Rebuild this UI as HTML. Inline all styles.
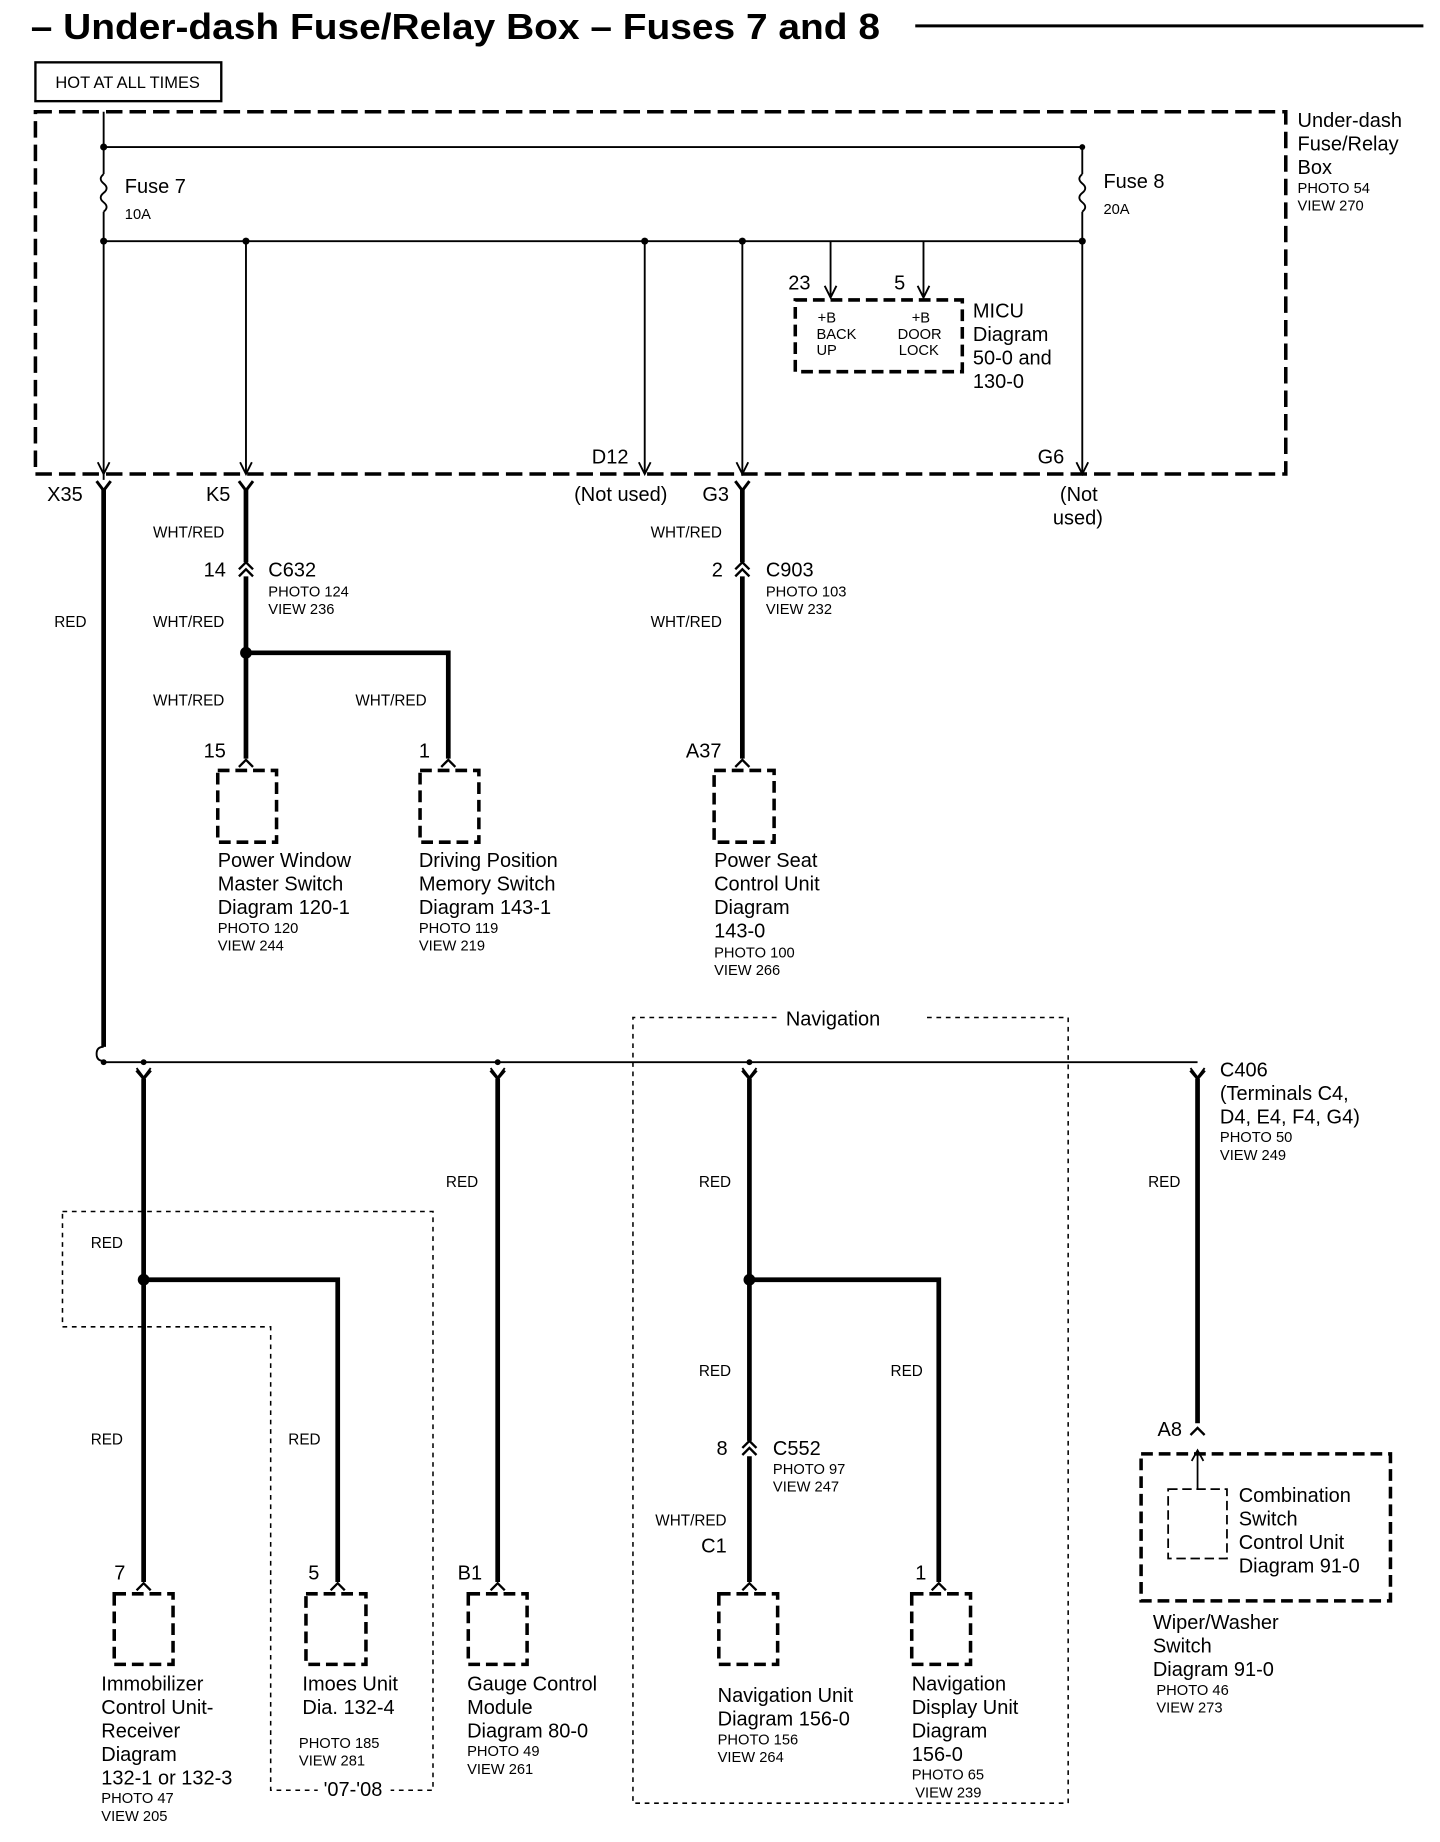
<!DOCTYPE html>
<html><head><meta charset="utf-8"><style>
html,body{margin:0;padding:0;background:#fff;}
svg{display:block}
text{font-family:"Liberation Sans",Arial,sans-serif;fill:#000}
.t{font-size:17px}
.s{font-size:12.5px}
.w{font-size:13px}
</style></head><body>
<svg width="1440" height="1842" viewBox="0 0 1224 1566" xmlns="http://www.w3.org/2000/svg">
<rect width="1224" height="1566" fill="#fff"/>
<!-- title -->
<text x="26" y="33" font-size="31" font-weight="bold" textLength="722" lengthAdjust="spacingAndGlyphs">– Under-dash Fuse/Relay Box – Fuses 7 and 8</text>
<line x1="778" y1="22" x2="1210" y2="22" stroke="#000" stroke-width="2.5"/>
<rect x="30" y="53" width="158" height="33" fill="none" stroke="#000" stroke-width="2"/>
<text x="47" y="75" font-size="14">HOT AT ALL TIMES</text>
<!-- main dashed box -->
<rect x="30" y="95" width="1063" height="308" fill="none" stroke="#000" stroke-width="3" stroke-dasharray="14,6"/>
<text x="1103" y="108" class="t">Under-dash</text>
<text x="1103" y="128" class="t">Fuse/Relay</text>
<text x="1103" y="148" class="t">Box</text>
<text x="1103" y="164" class="s">PHOTO 54</text>
<text x="1103" y="179" class="s">VIEW 270</text>
<g stroke="#000" stroke-width="1.6" fill="none">
<line x1="88" y1="95" x2="88" y2="148"/>
<path d="M88 148 q-5 4 0 8 q5 4 0 8 q-5 4 0 8 q5 4 0 8"/>
<line x1="88" y1="180" x2="88" y2="408"/>
<line x1="88" y1="125" x2="920" y2="125"/>
<line x1="920" y1="125" x2="920" y2="148"/>
<path d="M920 148 q-5 4 0 8 q5 4 0 8 q-5 4 0 8 q5 4 0 8"/>
<line x1="920" y1="180" x2="920" y2="403"/>
<line x1="88" y1="205" x2="920" y2="205"/>
<line x1="209" y1="205" x2="209" y2="403"/>
<line x1="548" y1="205" x2="548" y2="403"/>
<line x1="631" y1="205" x2="631" y2="403"/>
<line x1="706" y1="205" x2="706" y2="253"/>
<line x1="785" y1="205" x2="785" y2="253"/>
</g>
<g fill="#000">
<circle cx="88" cy="125" r="3"/><circle cx="88" cy="205" r="3"/><circle cx="209" cy="205" r="3"/>
<circle cx="548" cy="205" r="3"/><circle cx="631" cy="205" r="3"/><circle cx="920" cy="205" r="3"/><circle cx="920" cy="125" r="2.5"/>
</g>
<g stroke="#000" stroke-width="1.6" fill="none">
<path d="M83 393 l5 10 l5 -10"/><path d="M204 393 l5 10 l5 -10"/><path d="M543 393 l5 10 l5 -10"/>
<path d="M626 393 l5 10 l5 -10"/><path d="M915 393 l5 10 l5 -10"/>
<path d="M701 243 l5 10 l5 -10"/><path d="M780 243 l5 10 l5 -10"/>
</g>
<text x="106" y="164" class="t">Fuse 7</text><text x="106" y="186" class="s">10A</text>
<text x="938" y="160" class="t">Fuse 8</text><text x="938" y="182" class="s">20A</text>
<rect x="676" y="255" width="142" height="61" fill="none" stroke="#000" stroke-width="3" stroke-dasharray="10,5"/>
<text x="670" y="246" class="t">23</text><text x="760" y="246" class="t">5</text>
<text x="695" y="274" class="s">+B</text><text x="694" y="288" class="s">BACK</text><text x="694" y="302" class="s">UP</text>
<text x="775" y="274" class="s">+B</text><text x="763" y="288" class="s">DOOR</text><text x="764" y="302" class="s">LOCK</text>
<text x="827" y="270" class="t">MICU</text><text x="827" y="290" class="t">Diagram</text><text x="827" y="310" class="t">50-0 and</text><text x="827" y="330" class="t">130-0</text>
<!-- connector Y symbols -->
<g stroke="#000" stroke-width="2.5" fill="none">
<path d="M82 409 q6 8 6 8 q0 0 6 -8"/><path d="M203 409 l6 8 l6 -8"/><path d="M625 409 l6 8 l6 -8"/>
</g>
<text x="40" y="426" class="t">X35</text><text x="175" y="426" class="t">K5</text>
<text x="503" y="394" class="t">D12</text><text x="488" y="426" class="t">(Not used)</text>
<text x="597" y="426" class="t">G3</text><text x="882" y="394" class="t">G6</text>
<text x="901" y="426" class="t">(Not</text><text x="895" y="446" class="t">used)</text>
<!-- thick wires upper -->
<g stroke="#000" stroke-width="4" fill="none">
<line x1="88" y1="415" x2="88" y2="890"/>
<line x1="209" y1="415" x2="209" y2="478"/><line x1="209" y1="490" x2="209" y2="645"/>
<polyline points="209,555 381,555 381,645"/>
<line x1="631" y1="415" x2="631" y2="478"/><line x1="631" y1="490" x2="631" y2="645"/>
</g>
<circle cx="209" cy="555" r="5" fill="#000"/>
<g stroke="#000" stroke-width="2" fill="none">
<path d="M203 484 l6 -6 l6 6 M203 490 l6 -6 l6 6"/>
<path d="M625 484 l6 -6 l6 6 M625 490 l6 -6 l6 6"/>
<path d="M203 652 l6 -6 l6 6"/><path d="M375 652 l6 -6 l6 6"/><path d="M625 652 l6 -6 l6 6"/>
</g>
<text x="130" y="457" class="w">WHT/RED</text><text x="130" y="533" class="w">WHT/RED</text><text x="130" y="600" class="w">WHT/RED</text>
<text x="302" y="600" class="w">WHT/RED</text><text x="553" y="457" class="w">WHT/RED</text><text x="553" y="533" class="w">WHT/RED</text>
<text x="46" y="533" class="w">RED</text>
<text x="173" y="490" class="t">14</text><text x="228" y="490" class="t">C632</text><text x="228" y="507" class="s">PHOTO 124</text><text x="228" y="522" class="s">VIEW 236</text>
<text x="605" y="490" class="t">2</text><text x="651" y="490" class="t">C903</text><text x="651" y="507" class="s">PHOTO 103</text><text x="651" y="522" class="s">VIEW 232</text>
<text x="173" y="644" class="t">15</text><text x="356" y="644" class="t">1</text><text x="583" y="644" class="t">A37</text>
<g fill="none" stroke="#000" stroke-width="3" stroke-dasharray="10,5">
<rect x="185" y="655" width="50" height="61"/><rect x="357" y="655" width="50" height="61"/><rect x="607" y="655" width="51" height="61"/>
</g>
<text x="185" y="737" class="t">Power Window</text><text x="185" y="757" class="t">Master  Switch</text><text x="185" y="777" class="t">Diagram 120-1</text>
<text x="185" y="793" class="s">PHOTO 120</text><text x="185" y="808" class="s">VIEW 244</text>
<text x="356" y="737" class="t">Driving Position</text><text x="356" y="757" class="t">Memory Switch</text><text x="356" y="777" class="t">Diagram 143-1</text>
<text x="356" y="793" class="s">PHOTO 119</text><text x="356" y="808" class="s">VIEW 219</text>
<text x="607" y="737" class="t">Power Seat</text><text x="607" y="757" class="t">Control Unit</text><text x="607" y="777" class="t">Diagram</text><text x="607" y="797" class="t">143-0</text>
<text x="607" y="814" class="s">PHOTO 100</text><text x="607" y="829" class="s">VIEW 266</text>
<!-- dashed thin regions -->
<g fill="none" stroke="#000" stroke-width="1.3" stroke-dasharray="4,4">
<polyline points="660,865 538,865 538,1533 908,1533 908,865 785,865"/>
<polygon points="53,1030 368,1030 368,1522 230,1522 230,1128 53,1128"/>
</g>
<text x="668" y="872" class="t">Navigation</text>
<rect x="270" y="1512" width="62" height="18" fill="#fff"/>
<text x="275" y="1527" class="t">'07-'08</text>
<!-- bus -->
<g stroke="#000" stroke-width="1.6" fill="none">
<path d="M88 890 q-6 0 -6 6 q0 6 6 6"/>
<line x1="88" y1="903" x2="1018" y2="903"/>
<path d="M116 908 l6 8 l6 -8"/><path d="M417 908 l6 8 l6 -8"/><path d="M631 908 l6 8 l6 -8"/><path d="M1012 908 l6 8 l6 -8"/>
</g>
<g stroke="#000" stroke-width="2.5" fill="none">
<path d="M116 910 l6 7 l6 -7"/><path d="M417 910 l6 7 l6 -7"/><path d="M631 910 l6 7 l6 -7"/><path d="M1012 910 l6 7 l6 -7"/>
</g>
<g fill="#000"><circle cx="88" cy="903" r="2.5"/><circle cx="122" cy="903" r="2.5"/><circle cx="423" cy="903" r="2.5"/><circle cx="637" cy="903" r="2.5"/></g>
<g stroke="#000" stroke-width="4" fill="none">
<line x1="122" y1="917" x2="122" y2="1345"/><polyline points="122,1088 287,1088 287,1345"/>
<line x1="423" y1="917" x2="423" y2="1345"/>
<line x1="637" y1="917" x2="637" y2="1225"/><line x1="637" y1="1238" x2="637" y2="1345"/>
<polyline points="637,1088 798,1088 798,1345"/>
<line x1="1018" y1="917" x2="1018" y2="1210"/>
</g>
<circle cx="122" cy="1088" r="5" fill="#000"/><circle cx="637" cy="1088" r="5" fill="#000"/>
<g stroke="#000" stroke-width="2" fill="none">
<path d="M631 1231 l6 -6 l6 6 M631 1237 l6 -6 l6 6"/>
<path d="M116 1352 l6 -6 l6 6"/><path d="M281 1352 l6 -6 l6 6"/><path d="M417 1352 l6 -6 l6 6"/>
<path d="M631 1352 l6 -6 l6 6"/><path d="M792 1352 l6 -6 l6 6"/><path d="M1012 1220 l6 -6 l6 6"/>
</g>
<text x="1037" y="915" class="t">C406</text><text x="1037" y="935" class="t">(Terminals C4,</text><text x="1037" y="955" class="t">D4, E4, F4, G4)</text>
<text x="1037" y="971" class="s">PHOTO 50</text><text x="1037" y="986" class="s">VIEW 249</text>
<text x="379" y="1009" class="w">RED</text><text x="594" y="1009" class="w">RED</text><text x="976" y="1009" class="w">RED</text>
<text x="77" y="1061" class="w">RED</text><text x="77" y="1228" class="w">RED</text><text x="245" y="1228" class="w">RED</text>
<text x="594" y="1170" class="w">RED</text><text x="757" y="1170" class="w">RED</text>
<text x="557" y="1297" class="w">WHT/RED</text>
<text x="609" y="1237" class="t">8</text><text x="657" y="1237" class="t">C552</text><text x="657" y="1253" class="s">PHOTO 97</text><text x="657" y="1268" class="s">VIEW 247</text>
<text x="596" y="1320" class="t">C1</text><text x="984" y="1221" class="t">A8</text>
<text x="97" y="1343" class="t">7</text><text x="262" y="1343" class="t">5</text><text x="389" y="1343" class="t">B1</text><text x="778" y="1343" class="t">1</text>
<g fill="none" stroke="#000" stroke-width="3" stroke-dasharray="10,5">
<rect x="97" y="1355" width="50" height="60"/><rect x="260" y="1355" width="51" height="60"/><rect x="398" y="1355" width="50" height="60"/>
<rect x="611" y="1355" width="50" height="60"/><rect x="775" y="1355" width="50" height="60"/>
<rect x="970" y="1236" width="212" height="125"/>
</g>
<rect x="993" y="1266" width="50" height="59" fill="none" stroke="#000" stroke-width="1.5" stroke-dasharray="8,4"/>
<g stroke="#000" stroke-width="1.5" fill="none"><line x1="1018" y1="1266" x2="1018" y2="1233"/><path d="M1013 1242 l5 -9 l5 9"/></g>
<text x="1053" y="1277" class="t">Combination</text><text x="1053" y="1297" class="t">Switch</text><text x="1053" y="1317" class="t">Control Unit</text><text x="1053" y="1337" class="t">Diagram 91-0</text>
<text x="980" y="1385" class="t">Wiper/Washer</text><text x="980" y="1405" class="t">Switch</text><text x="980" y="1425" class="t">Diagram 91-0</text>
<text x="983" y="1441" class="s">PHOTO 46</text><text x="983" y="1456" class="s">VIEW 273</text>
<text x="86" y="1437" class="t">Immobilizer</text><text x="86" y="1457" class="t">Control Unit-</text><text x="86" y="1477" class="t">Receiver</text><text x="86" y="1497" class="t">Diagram</text><text x="86" y="1517" class="t">132-1 or 132-3</text>
<text x="86" y="1533" class="s">PHOTO 47</text><text x="86" y="1548" class="s">VIEW 205</text>
<text x="257" y="1437" class="t">Imoes Unit</text><text x="257" y="1457" class="t">Dia. 132-4</text>
<text x="254" y="1486" class="s">PHOTO 185</text><text x="254" y="1501" class="s">VIEW 281</text>
<text x="397" y="1437" class="t">Gauge Control</text><text x="397" y="1457" class="t">Module</text><text x="397" y="1477" class="t">Diagram 80-0</text>
<text x="397" y="1493" class="s">PHOTO 49</text><text x="397" y="1508" class="s">VIEW 261</text>
<text x="610" y="1447" class="t">Navigation Unit</text><text x="610" y="1467" class="t">Diagram 156-0</text>
<text x="610" y="1483" class="s">PHOTO 156</text><text x="610" y="1498" class="s">VIEW 264</text>
<text x="775" y="1437" class="t">Navigation</text><text x="775" y="1457" class="t">Display Unit</text><text x="775" y="1477" class="t">Diagram</text><text x="775" y="1497" class="t">156-0</text>
<text x="775" y="1513" class="s">PHOTO 65</text><text x="778" y="1528" class="s">VIEW 239</text>
</svg>
</body></html>
